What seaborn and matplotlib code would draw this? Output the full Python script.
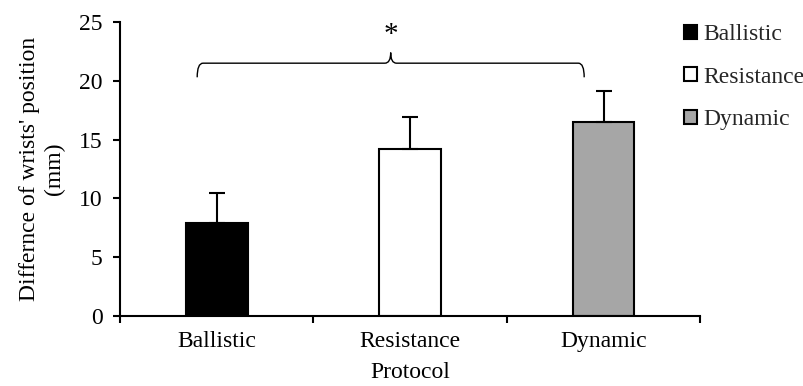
import matplotlib
matplotlib.use("Agg")
import matplotlib.pyplot as plt
import seaborn as sns
import pandas as pd
from matplotlib.path import Path
from matplotlib.patches import PathPatch, Patch

protocols = ["Ballistic", "Resistance", "Dynamic"]
means = [7.9, 14.2, 16.5]
errors = [2.6, 2.7, 2.6]
colors = ["#000000", "#ffffff", "#a6a6a6"]

sns.set_theme(style="white")
plt.rcParams["font.family"] = ["Liberation Serif", "DejaVu Serif"]

FS = 17

df = pd.DataFrame({"Protocol": protocols, "Value": means})

fig = plt.figure(figsize=(8.04, 3.86), dpi=100)
ax = fig.add_axes([0.149, 0.181, 0.722, 0.762])

sns.barplot(data=df, x="Protocol", y="Value", hue="Protocol", palette=colors,
            width=0.32, edgecolor="black", linewidth=1.5, legend=False, ax=ax,
            errorbar=None)

xs = [p.get_x() + p.get_width() / 2 for p in ax.patches]
ax.errorbar(xs, means, yerr=[[0] * len(errors), errors], fmt="none",
            ecolor="black", elinewidth=1.5, capsize=6, capthick=1.5, zorder=1)

ax.set_xlim(-0.5, 2.5)
ax.set_ylim(0, 25)
ax.set_yticks([0, 5, 10, 15, 20, 25])
ax.set_xticks(range(3))
ax.set_xticklabels(protocols)
ax.set_xticks([-0.5, 0.5, 1.5, 2.5], minor=True)
ax.tick_params(axis="x", which="major", length=0, labelsize=FS, pad=11, colors="black")
ax.tick_params(axis="x", which="minor", length=5, width=1.5, direction="out", bottom=True, color="black")
ax.tick_params(axis="y", which="major", length=5, width=1.5, direction="out", left=True,
               labelsize=FS, colors="black", pad=7.5)

for s in ["top", "right"]:
    ax.spines[s].set_visible(False)
for s in ["left", "bottom"]:
    ax.spines[s].set_color("black")
    ax.spines[s].set_linewidth(1.5)

ax.set_xlabel("Protocol", fontsize=FS, color="black", labelpad=7)
ax.set_ylabel("Differnce of wrists' position\n(mm)", fontsize=FS, color="black",
              labelpad=10, linespacing=1.25)

# brace
x0, x1 = -0.1, 1.9
xc = (x0 + x1) / 2
yb, yl, yt = 20.3, 21.5, 22.4
dx = 0.03
verts = [(x0, yb), (x0, yl), (x0 + dx, yl),
         (xc - dx, yl), (xc, yl), (xc, yt),
         (xc, yt), (xc, yl), (xc + dx, yl),
         (x1 - dx, yl), (x1, yl), (x1, yb)]
codes = [Path.MOVETO, Path.CURVE3, Path.CURVE3,
         Path.LINETO, Path.CURVE3, Path.CURVE3,
         Path.MOVETO, Path.CURVE3, Path.CURVE3,
         Path.LINETO, Path.CURVE3, Path.CURVE3]
ax.add_patch(PathPatch(Path(verts, codes), facecolor="none", edgecolor="black",
                       linewidth=1.0, clip_on=False))
ax.text(xc, 23.9, "*", ha="center", va="center", fontsize=21, color="black", clip_on=False)

handles = [Patch(facecolor=c, edgecolor="black", linewidth=1.5) for c in colors]
fig.legend(handles, protocols, loc="upper left", bbox_to_anchor=(684 / 804, 1 - 24 / 386),
           frameon=False, fontsize=FS, handlelength=0.55, handleheight=0.55,
           handletextpad=0.25, labelspacing=0.92, borderpad=0, borderaxespad=0)

fig.savefig("out.png", dpi=100)
